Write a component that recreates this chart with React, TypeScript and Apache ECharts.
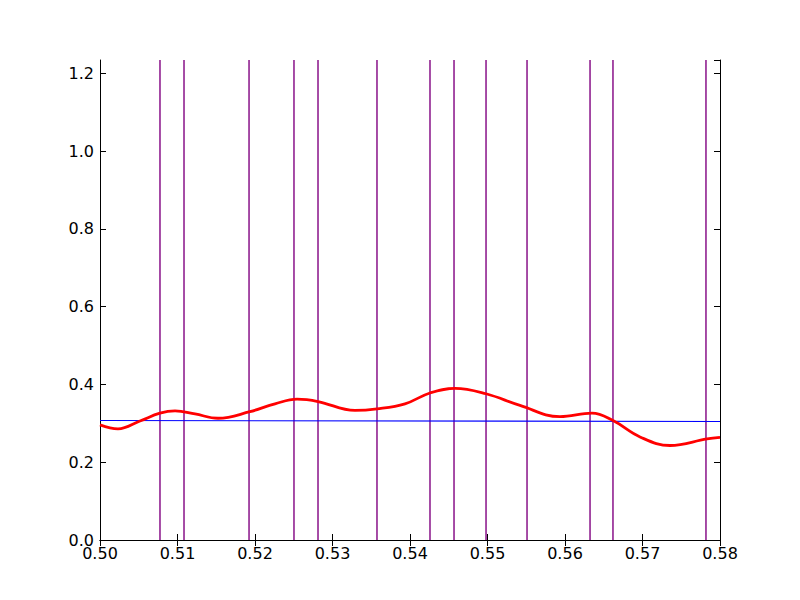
import React, { useEffect, useRef } from "react";
import * as echarts from "echarts";

const redX = [0.5, 0.50232, 0.50516, 0.50774, 0.50968, 0.51226, 0.51523, 0.51935, 0.52258, 0.52542, 0.52813, 0.5329, 0.53574, 0.53935, 0.54258, 0.54581, 0.54981, 0.55419, 0.55935, 0.56348, 0.56619, 0.56968, 0.57355, 0.57832, 0.58];
const redY = [0.296, 0.2857, 0.306, 0.326, 0.332, 0.324, 0.313, 0.33, 0.35, 0.362, 0.356, 0.333, 0.337, 0.35, 0.378, 0.39, 0.376, 0.346, 0.317, 0.326, 0.307, 0.265, 0.243, 0.26, 0.264];
const blueX = [0.5, 0.58];
const blueY = [0.3072, 0.3046];
const vlines = [0.50774, 0.51084, 0.51923, 0.52503, 0.52813, 0.53574, 0.54258, 0.54568, 0.54981, 0.5551, 0.56323, 0.56619, 0.57819];
const yMax = 1.234;

export default function App() {
  const ref = useRef<HTMLDivElement>(null);
  useEffect(() => {
    const chart = echarts.init(ref.current!, null, { renderer: "svg" });
    const font = { fontFamily: "DejaVu Sans", fontSize: 16, color: "#000" };
    const xBase = {
      type: "value" as const,
      min: 0.5,
      max: 0.58,
      interval: 0.01,
      splitLine: { show: false },
      axisLine: { lineStyle: { color: "#000", width: 1 } },
      axisTick: { inside: true, length: 6, lineStyle: { color: "#000" } },
    };
    const yBase = {
      type: "value" as const,
      min: 0,
      max: yMax,
      interval: 0.2,
      splitLine: { show: false },
      axisLine: { show: true, lineStyle: { color: "#000", width: 1 } },
      axisTick: { inside: true, length: 6, lineStyle: { color: "#000" } },
    };
    const vSeries = vlines.map((v) => ({
      type: "line" as const,
      data: [
        [v, 0],
        [v, yMax],
      ],
      symbol: "none",
      silent: true,
      lineStyle: { color: "#800080", width: 1.4 },
      z: 1,
    }));
    chart.setOption({
      animation: false,
      backgroundColor: "#fff",
      grid: { left: 100, right: 80, top: 60, bottom: 60 },
      xAxis: [
        {
          ...xBase,
          position: "bottom",
          axisLabel: { ...font, margin: 5, formatter: (v: number) => v.toFixed(2) },
        },
        { ...xBase, position: "top", axisLabel: { show: false } },
      ],
      yAxis: [
        {
          ...yBase,
          position: "left",
          axisLabel: {
            ...font,
            margin: 6,
            showMaxLabel: false,
            formatter: (v: number) => (Math.abs(v / 0.2 - Math.round(v / 0.2)) < 1e-6 ? v.toFixed(1) : ""),
          },
        },
        { ...yBase, position: "right", axisLabel: { show: false } },
      ],
      series: [
        ...vSeries,
        {
          type: "line",
          data: blueX.map((x, i) => [x, blueY[i]]),
          symbol: "none",
          silent: true,
          lineStyle: { color: "#0000ff", width: 1.2 },
          z: 2,
        },
        {
          type: "line",
          data: redX.map((x, i) => [x, redY[i]]),
          symbol: "none",
          silent: true,
          smooth: 0.4,
          lineStyle: { color: "#ff0000", width: 2.8 },
          z: 3,
        },
      ],
    });
    return () => chart.dispose();
  }, []);
  return <div ref={ref} style={{ width: 800, height: 600, margin: -8 }} />;
}
